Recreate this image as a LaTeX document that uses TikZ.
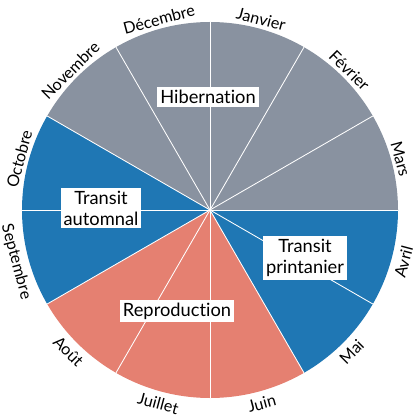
\documentclass[tikz,border=0pt]{standalone}
\usepackage{fontspec}
\setmainfont{Lato}[Ligatures=NoCommon]
\usepackage{tikz}
\usetikzlibrary{positioning}
\definecolor{hiber}{RGB}{137,146,160}
\definecolor{transit}{RGB}{31,119,180}
\definecolor{repro}{RGB}{229,128,113}

\tikzset{
  spoke/.style={draw=white, line width=0.6pt},
  month/.style={font=\fontsize{11.5}{13}\selectfont, inner sep=1.5pt},
  phase/.style={fill=white, font=\fontsize{13}{15}\selectfont, align=center,
    inner sep=2pt},
}

\begin{document}
\begin{tikzpicture}[x=0.025cm, y=0.025cm]
  \useasboundingbox (-210,-210) rectangle (210,210);
  \def\R{188}
  \coordinate (c) at (0,0);
  % wedges, Janvier first, going clockwise
  \foreach \m/\col in {0/hiber,1/hiber,2/hiber,3/transit,4/transit,5/repro,
                        6/repro,7/repro,8/transit,9/transit,10/hiber,11/hiber} {
    \pgfmathsetmacro{\a}{90-30*\m}
    \fill[\col] (c) -- (\a:\R) arc[start angle=\a, end angle=\a-30, radius=\R]
      -- cycle;
  }
  % spokes between months
  \foreach \m in {0,...,11} {
    \draw[spoke] (c) -- (90-30*\m:\R);
  }
  % month names round the rim
  \foreach \m/\name/\rot/\anc/\off in {0/Janvier/-15/south/1, 1/Février/-45/south/1,
      2/Mars/-75/south/1, 3/Avril/75/north/4, 4/Mai/45/north/4, 5/Juin/15/north/4,
      6/Juillet/-15/north/4, 7/Août/-45/north/4, 8/Septembre/-75/north/3,
      9/Octobre/75/south/1, 10/Novembre/45/south/1, 11/Décembre/15/south/1} {
    \node[month, rotate=\rot, anchor=\anc] (m\m) at (75-30*\m:\R+\off) {\name};
  }
  % phases
  \node[phase] (hib) at (-2,113) {Hibernation};
  \node[phase] (aut) at (-109,2) {Transit\\automnal};
  \node[phase] (prin) at (95,-48) {Transit\\printanier};
  \node[phase] (repro) at (-33,-101) {Reproduction};
\end{tikzpicture}
\end{document}
